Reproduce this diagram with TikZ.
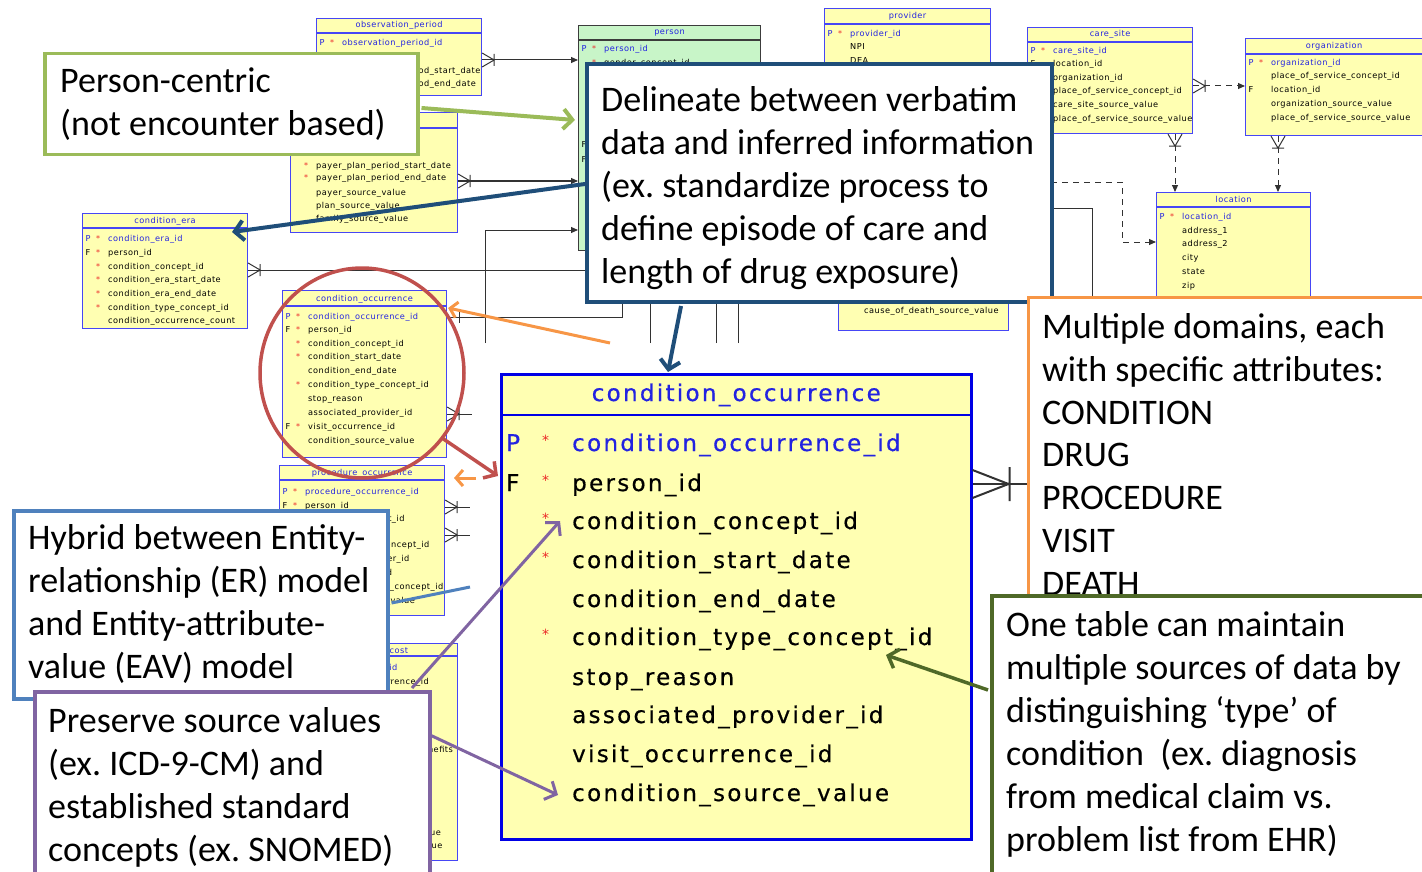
\documentclass[tikz,border=0pt]{standalone}
\usepackage{fontspec}
\usetikzlibrary{arrows.meta,calc,shapes.geometric}
\newfontfamily\calloutfont{Carlito}
\newfontfamily\erfont{DejaVu Sans}[LetterSpace=6]
\newfontfamily\bigfont{DejaVu Sans}[LetterSpace=10,FakeBold=0.5]
\newfontfamily\keyfont{DejaVu Sans}
\newfontfamily\bigkeyfont{DejaVu Sans}[FakeBold=0.5]

\definecolor{tabblue}{RGB}{70,70,245}
\definecolor{tabfill}{RGB}{255,255,178}
\definecolor{pkblue}{RGB}{35,35,225}
\definecolor{starred}{RGB}{235,40,40}
\definecolor{personfill}{RGB}{200,245,200}
\definecolor{persondraw}{RGB}{60,60,60}
\definecolor{linegray}{RGB}{50,50,50}
\definecolor{cgreen}{RGB}{155,187,89}
\definecolor{cnavy}{RGB}{31,78,121}
\definecolor{corange}{RGB}{247,150,70}
\definecolor{colive}{RGB}{79,105,40}
\definecolor{cblue}{RGB}{79,129,189}
\definecolor{cpurple}{RGB}{128,100,162}
\definecolor{cred}{RGB}{192,80,77}

\newcounter{rowno}
% small entity box with its header rule: name, x, y, width, height, rule offset
\newcommand\ertable[6]{%
  \node[ertab, minimum width=#4pt, minimum height=#5pt, anchor=north west] (#1) at (#2,#3) {};
  \draw[tabblue, line width=1.1pt] ($(#1.north west)+(0,#6)$) -- ($(#1.north east)+(0,#6)$);}
% one attribute row: [colour] table x, row centre y, key letter, star, name
\newcommand\erow[6][black]{%
  \stepcounter{rowno}%
  \node[erowtext, text=#1] (rt\arabic{rowno}) at (#2+26,#3+3) {#6};%
  \if\relax\detokenize{#4}\relax\else
    \node[erowtext, text=#1] (rk\arabic{rowno}) at (#2+3.5,#3+3) {#4};\fi
  \if\relax\detokenize{#5}\relax\else
    \node[erowstar] (rs\arabic{rowno}) at (#2+14,#3+3) {*};\fi}
% one attribute row of the enlarged condition_occurrence table
\newcommand\bigrow[5][black]{%
  \stepcounter{rowno}%
  \node[bigtext, text=#1] (bt\arabic{rowno}) at (572,#2+8) {#5};%
  \if\relax\detokenize{#3}\relax\else
    \node[bigkey, text=#1] (bk\arabic{rowno}) at (506,#2+8) {#3};\fi
  \if\relax\detokenize{#4}\relax\else
    \node[bigstar] (bs\arabic{rowno}) at (542,#2+2) {*};\fi}
% crow's foot pointing right / down from a table edge
\newcommand\crowR[1]{\begin{scope}[shift={#1}]
  \draw[erconn] (0,-7) -- (12,0) -- (0,7) (12,-6) -- (12,6);\end{scope}}
\newcommand\crowD[1]{\begin{scope}[shift={#1}]
  \draw[erconn] (-7,0) -- (0,12) -- (7,0) (-6,12) -- (6,12);\end{scope}}
\catcode`\_=12

\begin{document}
\begin{tikzpicture}[x=1pt,y=-1pt,
  ertab/.style={draw=tabblue, fill=tabfill, line width=1.1pt, inner sep=0pt},
  ertitle/.style={anchor=base, inner sep=0pt, text=pkblue, font={\erfont\fontsize{8.2}{10}\selectfont}},
  erowtext/.style={anchor=base west, inner sep=0pt, font={\erfont\fontsize{8.2}{10}\selectfont}},
  erowstar/.style={anchor=base west, inner sep=0pt, text=starred, font={\keyfont\fontsize{8}{10}\selectfont}},
  bigtext/.style={anchor=base west, inner sep=0pt, font={\bigfont\fontsize{23}{28}\selectfont}},
  bigkey/.style={anchor=base west, inner sep=0pt, font={\bigkeyfont\fontsize{23}{28}\selectfont}},
  bigstar/.style={anchor=base west, inner sep=0pt, text=starred, font={\keyfont\fontsize{14}{16}\selectfont}},
  erconn/.style={draw=linegray, line width=1pt},
  erhead/.style={-{Triangle[length=7pt,width=6pt]}},
  erdash/.style={dash pattern=on 6pt off 5pt},
  callout/.style={fill=white, line width=3.5pt, inner sep=0pt, anchor=north west},
  ctext/.style={anchor=base west, inner sep=0pt, font={\calloutfont\frenchspacing\fontsize{36}{43}\selectfont}},
  carrow/.style={line width=4pt, -{Straight Barb[length=9pt,width=20pt]}}]
\useasboundingbox (0,0) rectangle (1422,872);

% ---------------- entity boxes of the data model ----------------
\ertable{obs}{316}{18}{165}{77}{15}
\node[ertitle] (obs-t) at ($(obs.north)+(0,10)$) {observation_period};
\erow[pkblue]{316}{43}{P}{*}{observation_period_id}
\erow{316}{71}{}{*}{observation_period_start_date}
\erow{316}{84}{}{*}{observation_period_end_date}

\ertable{payer}{290}{112}{167}{120}{16}
\erow{290}{165}{}{*}{payer_plan_period_start_date}
\erow{290}{178}{}{*}{payer_plan_period_end_date}
\erow{290}{192}{}{}{payer_source_value}
\erow{290}{205}{}{}{plan_source_value}
\erow{290}{218}{}{}{family_source_value}

\node[ertab, draw=persondraw, fill=personfill, minimum width=182pt, minimum height=225pt, anchor=north west] (person) at (578,25) {};
\draw[persondraw, line width=1.1pt] ($(person.north west)+(0,15)$) -- ($(person.north east)+(0,15)$);
\node[ertitle] (person-t) at ($(person.north)+(0,10)$) {person};
\erow[pkblue]{578}{49}{P}{*}{person_id}
\erow{578}{63}{}{*}{gender_concept_id}
\node[erowtext] (person-f1) at (581.5,148) {F};
\node[erowtext] (person-f2) at (581.5,163) {F};

\ertable{prov}{824}{8}{166}{120}{16}
\node[ertitle] (prov-t) at ($(prov.north)+(0,11)$) {provider};
\erow[pkblue]{824}{34}{P}{*}{provider_id}
\erow{824}{47}{}{}{NPI}
\erow{824}{61}{}{}{DEA}

\ertable{death}{838}{220}{170}{110}{16}
\erow{838}{310}{}{}{cause_of_death_source_value}

\ertable{care}{1027}{27}{165}{106}{15}
\node[ertitle] (care-t) at ($(care.north)+(0,10)$) {care_site};
\erow[pkblue]{1027}{51}{P}{*}{care_site_id}
\erow{1027}{64}{F}{}{location_id}
\erow{1027}{78}{}{}{organization_id}
\erow{1027}{91}{}{}{place_of_service_concept_id}
\erow{1027}{105}{}{}{care_site_source_value}
\erow{1027}{119}{}{}{place_of_service_source_value}

\ertable{org}{1245}{38}{177}{97}{16}
\node[ertitle] (org-t) at ($(org.north)+(0,11)$) {organization};
\erow[pkblue]{1245}{63}{P}{*}{organization_id}
\erow{1245}{76}{}{}{place_of_service_concept_id}
\erow{1245}{90}{F}{}{location_id}
\erow{1245}{104}{}{}{organization_source_value}
\erow{1245}{118}{}{}{place_of_service_source_value}

\ertable{loc}{1156}{192}{154}{120}{15}
\node[ertitle] (loc-t) at ($(loc.north)+(0,10)$) {location};
\erow[pkblue]{1156}{216}{P}{*}{location_id}
\erow{1156}{230}{}{}{address_1}
\erow{1156}{243}{}{}{address_2}
\erow{1156}{257}{}{}{city}
\erow{1156}{271}{}{}{state}
\erow{1156}{285}{}{}{zip}

\ertable{cera}{82}{213}{165}{115}{15}
\node[ertitle] (cera-t) at ($(cera.north)+(0,10)$) {condition_era};
\erow[pkblue]{82}{238}{P}{*}{condition_era_id}
\erow{82}{252}{F}{*}{person_id}
\erow{82}{266}{}{*}{condition_concept_id}
\erow{82}{279}{}{*}{condition_era_start_date}
\erow{82}{293}{}{*}{condition_era_end_date}
\erow{82}{307}{}{*}{condition_type_concept_id}
\erow{82}{320}{}{}{condition_occurrence_count}

\ertable{scond}{282}{290}{164}{167}{16}
\node[ertitle] (scond-t) at ($(scond.north)+(0,11)$) {condition_occurrence};
\erow[pkblue]{282}{316}{P}{*}{condition_occurrence_id}
\erow{282}{329}{F}{*}{person_id}
\erow{282}{343}{}{*}{condition_concept_id}
\erow{282}{356}{}{*}{condition_start_date}
\erow{282}{370}{}{}{condition_end_date}
\erow{282}{384}{}{*}{condition_type_concept_id}
\erow{282}{398}{}{}{stop_reason}
\erow{282}{412}{}{}{associated_provider_id}
\erow{282}{426}{F}{*}{visit_occurrence_id}
\erow{282}{440}{}{}{condition_source_value}

\ertable{proc}{279}{465}{165}{150}{15}
\node[ertitle] (proc-t) at ($(proc.north)+(0,10)$) {procedure_occurrence};
\erow[pkblue]{279}{491}{P}{*}{procedure_occurrence_id}
\erow{279}{505}{F}{*}{person_id}
\erow{279}{518}{}{*}{procedure_concept_id}
\erow{279}{544}{}{*}{procedure_type_concept_id}
\erow{279}{558}{}{}{associated_provider_id}
\erow{279}{572}{}{}{visit_occurrence_id}
\erow{279}{586}{}{}{relevant_condition_concept_id}
\erow{279}{600}{}{}{procedure_source_value}

\ertable{pcost}{289}{643}{168}{217}{13}
\node[ertitle] (pcost-t) at ($(pcost.north)+(0,10)$) {procedure_cost};
\erow[pkblue]{289}{667}{}{}{procedure_cost_id}
\erow{289}{681}{}{}{procedure_occurrence_id}
\erow{289}{749}{}{}{paid_by_coordination_benefits}
\erow{289}{790}{}{}{disease_class_concept_id}
\erow{289}{804}{}{}{revenue_code_concept_id}
\erow{289}{832}{}{}{disease_class_source_value}
\erow{289}{845}{}{}{revenue_code_source_value}

% ---------------- relationships ----------------
\coordinate (j-era) at (485,343);
\coordinate (j-a) at (650,343);
\coordinate (j-b) at (716,343);
\coordinate (j-c) at (738,343);
\coordinate (j-visit) at (472,414);
\coordinate (j-p1) at (470,507);
\coordinate (j-p2) at (470,535);

\crowR{($(obs.north east)+(0,42)$)}
\draw[erconn, erhead] ($(obs.north east)+(0,42)$) -- ($(person.north west)+(0,35)$);
\crowR{($(payer.north east)+(0,69)$)}
\draw[erconn, erhead] ($(payer.north east)+(0,69)$) -- ($(person.north west)+(0,156)$);
\draw[erconn, erhead] (j-era) |- ($(person.north west)+(0,205)$);
\crowR{($(cera.north east)+(0,57)$)}
\draw[erconn] ($(cera.north east)+(0,57)$) -- (600,270);
\draw[erconn] ($(scond.north east)+(0,27)$) -| (622,290);
\draw[erconn] ($(scond.north east)+(12,21)$) -- ($(scond.north east)+(12,33)$);
\draw[erconn] (j-a) -- (650,290) (j-b) -- (716,290) (j-c) -- (738,290);
\crowR{($(scond.north east)+(0,124)$)}
\draw[erconn] ($(scond.north east)+(0,124)$) -- (j-visit);
\crowR{($(proc.north east)+(0,42)$)}
\draw[erconn] ($(proc.north east)+(0,42)$) -- (j-p1);
\crowR{($(proc.north east)+(0,70)$)}
\draw[erconn] ($(proc.north east)+(0,70)$) -- (j-p2);

\crowR{($(care.north east)+(0,59)$)}
\draw[erconn, erdash, erhead] ($(care.north east)+(0,59)$) -- ($(org.north west)+(0,48)$);
\crowD{($(care.south west)+(148,0)$)}
\draw[erconn, erdash, erhead] ($(care.south west)+(148,0)$) -- ($(loc.north west)+(19,0)$);
\crowD{($(org.south west)+(33,0)$)}
\draw[erconn, erdash, erhead] ($(org.south west)+(33,0)$) -- ($(loc.north west)+(122,0)$);
\draw[erconn, erdash, erhead] (1040,182) -| (1122,242) -- ($(loc.north west)+(0,50)$);
\draw[erconn] (1040,208) -| (1092,300);

% pointers from the domain list, running behind the enlarged table
\coordinate (o-start) at (610,343);
\coordinate (o-start2) at (476,478);
\draw[corange, line width=3pt, -{Straight Barb[length=7pt,width=16pt]}] (o-start) -- ($(scond.north east)+(1,18)$);
\draw[corange, line width=3pt, -{Straight Barb[length=7pt,width=16pt]}] (o-start2) -- (454,478);

% ---------------- enlarged condition_occurrence ----------------
\node[ertab, line width=2.5pt, draw=blue!90!black, minimum width=470pt, minimum height=465pt, anchor=north west] (big) at (500,373) {};
\draw[blue!90!black, line width=2.2pt] ($(big.north west)+(0,42)$) -- ($(big.north east)+(0,42)$);
\node[anchor=base, inner sep=0pt, text=pkblue, font={\bigfont\fontsize{23}{28}\selectfont}] (big-t) at ($(big.north)+(0,28)$) {condition_occurrence};
\bigrow[pkblue]{443}{P}{*}{condition_occurrence_id}
\bigrow{483}{F}{*}{person_id}
\bigrow{521}{}{*}{condition_concept_id}
\bigrow{560}{}{*}{condition_start_date}
\bigrow{599}{}{}{condition_end_date}
\bigrow{637}{}{*}{condition_type_concept_id}
\bigrow{677}{}{}{stop_reason}
\bigrow{715}{}{}{associated_provider_id}
\bigrow{754}{}{}{visit_occurrence_id}
\bigrow{793}{}{}{condition_source_value}

% ring round the small table
\node[draw=cred, line width=3.5pt, ellipse, minimum width=204pt, minimum height=210pt, inner sep=0pt] (ring) at (362,373) {};

% ---------------- callouts ----------------
\node[callout, draw=cgreen, minimum width=373pt, minimum height=101pt] (pc) at (43,52) {};
\foreach \t [count=\i from 0] in {Person-centric,{(not encounter based)}}
  \node[ctext] (pc-\i) at (60,92.5+43*\i) {\t};

\node[callout, draw=cnavy, line width=4pt, minimum width=465pt, minimum height=238pt] (dl) at (585,62) {};
\foreach \t [count=\i from 0] in {Delineate between verbatim,data and inferred information,{(ex. standardize process to},define episode of care and,{length of drug exposure)}}
  \node[ctext] (dl-\i) at (601,111.5+43*\i) {\t};

\node[callout, draw=corange, line width=3pt, minimum width=420pt, minimum height=320pt] (md) at (1027,296) {};
\foreach \t [count=\i from 0] in {{Multiple domains, each},with specific attributes:,CONDITION,DRUG,PROCEDURE,VISIT,DEATH}
  \node[ctext] (md-\i) at (1042,338.5+42.8*\i) {\t};

% one-to-many link from the enlarged table to the domain list
\begin{scope}[shift={($(big.north east)+(0,111)$)}]
  \draw[linegray, line width=2pt] (0,-14) -- (36,0) -- (0,14) (37,-17) -- (37,17);
\end{scope}
\draw[linegray, line width=2pt] ($(big.north east)+(0,111)$) -- ($(md.north west)+(0,188)$);

\node[callout, draw=colive, minimum width=450pt, minimum height=300pt] (ot) at (990,594) {};
\foreach \t [count=\i from 0] in {One table can maintain,multiple sources of data by,distinguishing ‘type’ of,{condition\ \ (ex. diagnosis},from medical claim vs.,{problem list from EHR)}}
  \node[ctext] (ot-\i) at (1006,636.5+43*\i) {\t};

\node[callout, draw=cblue, minimum width=374pt, minimum height=188pt] (er) at (12,509) {};
\foreach \t [count=\i from 0] in {Hybrid between Entity-,{relationship (ER) model},and Entity-attribute-,{value (EAV) model}}
  \node[ctext] (er-\i) at (28,549.5+43*\i) {\t};

\node[callout, draw=cpurple, minimum width=395pt, minimum height=200pt] (pv) at (33,690) {};
\foreach \t [count=\i from 0] in {Preserve source values,{(ex. ICD-9-CM) and},established standard,{concepts (ex. SNOMED)}}
  \node[ctext] (pv-\i) at (48,732.5+43*\i) {\t};

% ---------------- callout pointers ----------------
\draw[carrow, cgreen] ($(pc.north east)+(2,56)$) -- ($(person.north west)+(-3,95)$);
\draw[carrow, cnavy] ($(dl.north west)+(0,122)$) -- ($(cera.north west)+(150,19)$);
\draw[carrow, cnavy] ($(dl.south west)+(96,2)$) -- ($(big.north west)+(168,-1)$);
\draw[carrow, cred, line width=3.5pt] ($(ring.center)+(80,65)$) -- ($(big.north west)+(-2,103)$);
\draw[cblue, line width=3pt] ($(er.north east)+(2,94)$) -- (470,587);
\draw[carrow, cpurple, line width=3pt] ($(pv.north west)+(379,-2)$) -- ($(big.north west)+(60,148)$);
\draw[carrow, cpurple, line width=3pt] ($(pv.north west)+(397,45)$) -- ($(big.north west)+(58,422)$);
\draw[carrow, colive, line width=3.5pt] ($(ot.north west)+(-2,96)$) -- ($(big.north west)+(386,282)$);
\end{tikzpicture}
\end{document}
